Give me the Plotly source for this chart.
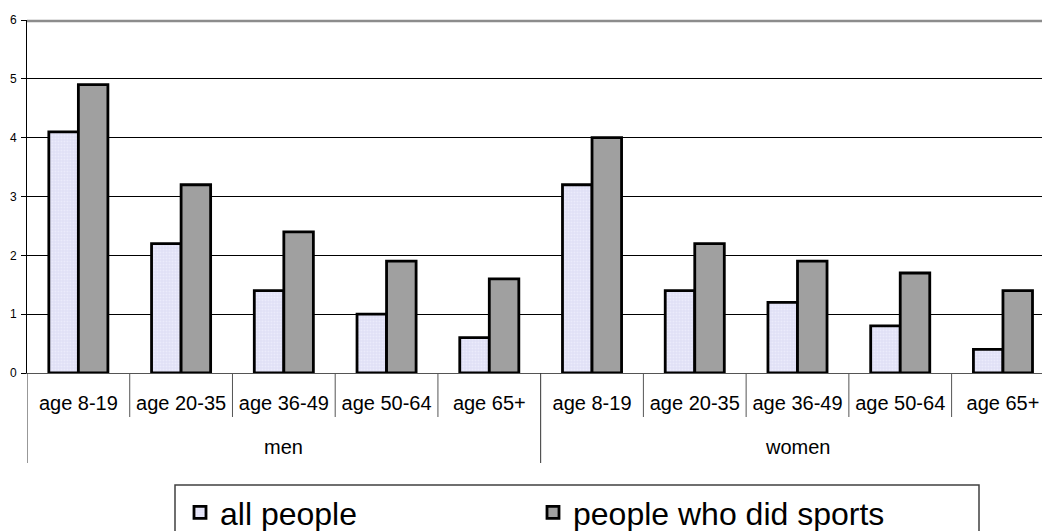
import plotly.graph_objects as go

groups = ["men", "women"]
age_bands = ["age 8-19", "age 20-35", "age 36-49", "age 50-64", "age 65+"]
all_people = [4.1, 2.2, 1.4, 1.0, 0.6, 3.2, 1.4, 1.2, 0.8, 0.4]
did_sports = [4.9, 3.2, 2.4, 1.9, 1.6, 4.0, 2.2, 1.9, 1.7, 1.4]
series_names = ["all people", "people who did sports"]
y_ticks = [0, 1, 2, 3, 4, 5, 6]

n_bands = len(age_bands)
n_cat = n_bands * len(groups)
xpos = list(range(n_cat))
ticktext = age_bands * len(groups)

W, H = 1042, 531
ml, mr, mt, mb = 27, 0, 20, 158
plot_h = H - mt - mb
plot_w = W - ml - mr

def py(px_y):
    return (H - mb - px_y) / plot_h

def px(px_x):
    return (px_x - ml) / plot_w

fig = go.Figure()
fig.add_trace(go.Bar(
    x=xpos, y=all_people, name=series_names[0],
    marker=dict(color="#E4E4F8", line=dict(color="black", width=2.8),
                pattern=dict(shape=".", fgcolor="#F6F6FF", bgcolor="#E0E0F6", size=3, solidity=0.3)),
))
fig.add_trace(go.Bar(
    x=xpos, y=did_sports, name=series_names[1],
    marker=dict(color="#A0A0A0", line=dict(color="black", width=2.8)),
))

shapes = []
# short dividers between age bands
for k in range(n_cat - 1):
    if (k + 1) % n_bands == 0:
        continue
    shapes.append(dict(type="line", xref="x", yref="paper", x0=k + 0.5, x1=k + 0.5,
                       y0=0, y1=py(417), line=dict(color="#555555", width=1)))
# long dividers between groups
for g in range(len(groups) + 1):
    xb = g * n_bands - 0.5
    shapes.append(dict(type="line", xref="x", yref="paper", x0=xb, x1=xb,
                       y0=0, y1=py(463), line=dict(color="#333333", width=1)))
# top border of plot area
shapes.append(dict(type="line", xref="paper", yref="paper", x0=0, x1=1, y0=py(21), y1=py(21),
                   line=dict(color="#8C8C8C", width=2.5)))
# legend box
shapes.append(dict(type="rect", xref="paper", yref="paper", x0=px(175), x1=px(979),
                   y0=py(560), y1=py(485), line=dict(color="#404040", width=1.5), fillcolor="rgba(0,0,0,0)"))

annotations = []
for g, name in enumerate(groups):
    annotations.append(dict(x=g * n_bands + (n_bands - 1) / 2, xref="x", y=py(447), yref="paper",
                            text=name, showarrow=False, yanchor="middle",
                            font=dict(size=20, color="black")))

fig.update_layout(
    width=W, height=H,
    margin=dict(l=ml, r=mr, t=mt, b=mb, autoexpand=False),
    paper_bgcolor="white", plot_bgcolor="white",
    font=dict(family="Liberation Sans, Arial, sans-serif", color="black"),
    barmode="group", bargap=0.425, bargroupgap=0,
    showlegend=True,
    legend=dict(orientation="h", x=px(180), xanchor="left", y=py(485), yanchor="top",
                font=dict(size=32, color="black"), entrywidth=308, bgcolor="rgba(0,0,0,0)",
                borderwidth=0),
    shapes=shapes, annotations=annotations,
)
fig.update_xaxes(
    tickmode="array", tickvals=xpos, ticktext=ticktext,
    range=[-0.5, 9.38], showgrid=False, zeroline=False, automargin=False,
    showline=True, linecolor="#555555", linewidth=1,
    ticks="", tickfont=dict(size=20, color="black"), ticklabelstandoff=12,
)
fig.update_yaxes(
    range=[y_ticks[0], y_ticks[-1]], tickmode="array", tickvals=y_ticks,
    showgrid=True, gridcolor="black", gridwidth=1, zeroline=False, automargin=False,
    showline=True, linecolor="black", linewidth=1,
    ticks="outside", ticklen=5, tickcolor="black",
    tickfont=dict(size=12, color="black"), ticklabelstandoff=2,
)
fig.write_html("out.html", config={"displayModeBar": False},
               post_script="document.body.style.margin='0px';document.body.style.overflow='hidden';")
